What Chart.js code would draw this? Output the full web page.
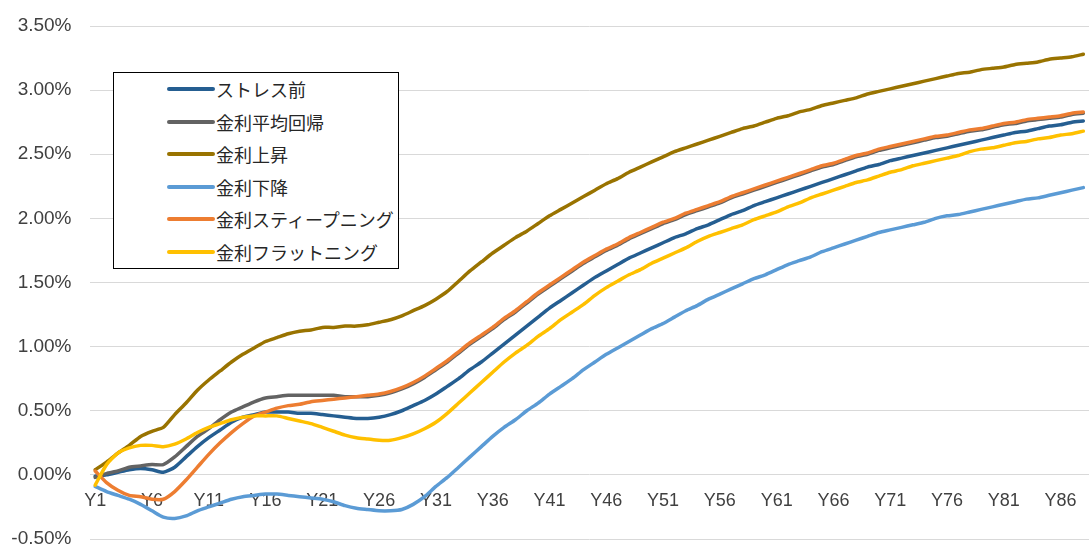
<!DOCTYPE html>
<html lang="ja">
<head>
<meta charset="utf-8">
<title>金利シナリオ別推移</title>
<script src="https://cdn.jsdelivr.net/npm/chart.js@4.4.1/dist/chart.umd.min.js"></script>
<style>
  html, body { margin: 0; padding: 0; background: #fff; }
  #wrap { position: relative; width: 1089px; height: 547px; overflow: hidden; }
  #legend {
    position: absolute; left: 113px; top: 72px; width: 286px; height: 197px;
    box-sizing: border-box; border: 1px solid #000; background: #fff;
    font-family: "Noto Sans CJK JP", sans-serif; font-size: 18px; color: #262626;
  }
  .item { position: absolute; left: 53px; height: 22px; display: flex; align-items: center; white-space: nowrap; }
  .swatch { width: 48px; height: 4px; border-radius: 2px; margin-right: 1px; }
</style>
</head>
<body>
<div id="wrap">
  <canvas id="chart"></canvas>
  <div id="legend"></div>
</div>
<script>
"use strict";

const years = [
  "Y1", "Y2", "Y3", "Y4", "Y5", "Y6", "Y7", "Y8", "Y9", "Y10",
  "Y11", "Y12", "Y13", "Y14", "Y15", "Y16", "Y17", "Y18", "Y19", "Y20",
  "Y21", "Y22", "Y23", "Y24", "Y25", "Y26", "Y27", "Y28", "Y29", "Y30",
  "Y31", "Y32", "Y33", "Y34", "Y35", "Y36", "Y37", "Y38", "Y39", "Y40",
  "Y41", "Y42", "Y43", "Y44", "Y45", "Y46", "Y47", "Y48", "Y49", "Y50",
  "Y51", "Y52", "Y53", "Y54", "Y55", "Y56", "Y57", "Y58", "Y59", "Y60",
  "Y61", "Y62", "Y63", "Y64", "Y65", "Y66", "Y67", "Y68", "Y69", "Y70",
  "Y71", "Y72", "Y73", "Y74", "Y75", "Y76", "Y77", "Y78", "Y79", "Y80",
  "Y81", "Y82", "Y83", "Y84", "Y85", "Y86", "Y87", "Y88",
];

// values in percent
const stressBefore = [
  -0.01, 0.00, 0.02, 0.04, 0.05, 0.04, 0.02, 0.06, 0.14, 0.22,
  0.29, 0.35, 0.41, 0.45, 0.47, 0.49, 0.49, 0.49, 0.48, 0.48,
  0.47, 0.46, 0.45, 0.44, 0.44, 0.45, 0.47, 0.50, 0.54, 0.58,
  0.63, 0.69, 0.75, 0.82, 0.88, 0.95, 1.02, 1.09, 1.16, 1.23,
  1.30, 1.36, 1.42, 1.48, 1.54, 1.59, 1.64, 1.69, 1.73, 1.77,
  1.81, 1.85, 1.88, 1.92, 1.95, 1.99, 2.03, 2.06, 2.10, 2.13,
  2.16, 2.19, 2.22, 2.25, 2.28, 2.31, 2.34, 2.37, 2.40, 2.42,
  2.45, 2.47, 2.49, 2.51, 2.53, 2.55, 2.57, 2.59, 2.61, 2.63,
  2.65, 2.67, 2.68, 2.70, 2.72, 2.73, 2.75, 2.76,
];
const meanRevert = [
  -0.02, 0.01, 0.03, 0.06, 0.07, 0.08, 0.08, 0.14, 0.22, 0.30,
  0.36, 0.43, 0.49, 0.53, 0.57, 0.60, 0.61, 0.62, 0.62, 0.62,
  0.62, 0.62, 0.61, 0.61, 0.61, 0.62, 0.64, 0.67, 0.71, 0.76,
  0.82, 0.88, 0.95, 1.02, 1.08, 1.14, 1.21, 1.27, 1.34, 1.41,
  1.47, 1.53, 1.59, 1.65, 1.70, 1.75, 1.79, 1.84, 1.88, 1.92,
  1.96, 1.99, 2.03, 2.06, 2.09, 2.12, 2.16, 2.19, 2.22, 2.25,
  2.28, 2.31, 2.34, 2.37, 2.40, 2.42, 2.45, 2.48, 2.50, 2.53,
  2.55, 2.57, 2.59, 2.61, 2.63, 2.64, 2.66, 2.68, 2.69, 2.71,
  2.73, 2.74, 2.76, 2.77, 2.78, 2.79, 2.81, 2.82,
];
const rateUp = [
  0.04, 0.10, 0.17, 0.23, 0.30, 0.34, 0.37, 0.47, 0.56, 0.66,
  0.74, 0.81, 0.88, 0.94, 0.99, 1.04, 1.07, 1.10, 1.12, 1.13,
  1.15, 1.15, 1.16, 1.16, 1.17, 1.19, 1.21, 1.24, 1.28, 1.32,
  1.37, 1.43, 1.51, 1.59, 1.66, 1.73, 1.79, 1.85, 1.90, 1.96,
  2.02, 2.07, 2.12, 2.17, 2.22, 2.27, 2.31, 2.36, 2.40, 2.44,
  2.48, 2.52, 2.55, 2.58, 2.61, 2.64, 2.67, 2.70, 2.72, 2.75,
  2.78, 2.80, 2.83, 2.85, 2.88, 2.90, 2.92, 2.94, 2.97, 2.99,
  3.01, 3.03, 3.05, 3.07, 3.09, 3.11, 3.13, 3.14, 3.16, 3.17,
  3.18, 3.20, 3.21, 3.22, 3.24, 3.25, 3.26, 3.28,
];
const rateDown = [
  -0.09, -0.13, -0.16, -0.19, -0.23, -0.28, -0.33, -0.34, -0.32, -0.28,
  -0.25, -0.22, -0.19, -0.17, -0.16, -0.15, -0.15, -0.16, -0.17, -0.18,
  -0.19, -0.21, -0.24, -0.26, -0.27, -0.28, -0.28, -0.27, -0.23, -0.17,
  -0.09, -0.02, 0.06, 0.14, 0.22, 0.30, 0.37, 0.43, 0.50, 0.56,
  0.63, 0.69, 0.75, 0.82, 0.88, 0.94, 0.99, 1.04, 1.09, 1.14,
  1.18, 1.23, 1.28, 1.32, 1.37, 1.41, 1.45, 1.49, 1.53, 1.56,
  1.60, 1.64, 1.67, 1.70, 1.74, 1.77, 1.80, 1.83, 1.86, 1.89,
  1.91, 1.93, 1.95, 1.97, 2.00, 2.02, 2.03, 2.05, 2.07, 2.09,
  2.11, 2.13, 2.15, 2.16, 2.18, 2.20, 2.22, 2.24,
];
const steepening = [
  0.03, -0.06, -0.12, -0.16, -0.17, -0.19, -0.19, -0.13, -0.04, 0.06,
  0.16, 0.25, 0.33, 0.40, 0.46, 0.49, 0.52, 0.54, 0.55, 0.57,
  0.58, 0.59, 0.60, 0.61, 0.62, 0.63, 0.65, 0.68, 0.72, 0.77,
  0.83, 0.89, 0.96, 1.03, 1.09, 1.15, 1.22, 1.28, 1.35, 1.42,
  1.48, 1.54, 1.60, 1.66, 1.71, 1.76, 1.80, 1.85, 1.89, 1.93,
  1.97, 2.00, 2.04, 2.07, 2.10, 2.13, 2.17, 2.20, 2.23, 2.26,
  2.29, 2.32, 2.35, 2.38, 2.41, 2.43, 2.46, 2.49, 2.51, 2.54,
  2.56, 2.58, 2.60, 2.62, 2.64, 2.65, 2.67, 2.69, 2.70, 2.72,
  2.74, 2.75, 2.77, 2.78, 2.79, 2.80, 2.82, 2.83,
];
const flattening = [
  -0.08, 0.08, 0.17, 0.21, 0.23, 0.23, 0.22, 0.24, 0.28, 0.33,
  0.37, 0.40, 0.43, 0.45, 0.46, 0.46, 0.46, 0.44, 0.42, 0.40,
  0.37, 0.34, 0.31, 0.29, 0.28, 0.27, 0.27, 0.29, 0.32, 0.36,
  0.41, 0.48, 0.56, 0.64, 0.72, 0.80, 0.88, 0.95, 1.01, 1.08,
  1.14, 1.21, 1.27, 1.33, 1.40, 1.46, 1.51, 1.56, 1.60, 1.65,
  1.69, 1.73, 1.77, 1.82, 1.86, 1.89, 1.92, 1.95, 1.99, 2.02,
  2.05, 2.09, 2.12, 2.16, 2.19, 2.22, 2.25, 2.28, 2.30, 2.33,
  2.36, 2.38, 2.41, 2.43, 2.45, 2.47, 2.49, 2.52, 2.54, 2.55,
  2.57, 2.59, 2.60, 2.62, 2.63, 2.65, 2.66, 2.68,
];

const seriesNames = ["ストレス前", "金利平均回帰", "金利上昇", "金利下降", "金利スティープニング", "金利フラットニング"];
const seriesColors = ["#255E91", "#636363", "#997300", "#5B9BD5", "#ED7D31", "#FFC000"];
const seriesValues = [stressBefore, meanRevert, rateUp, rateDown, steepening, flattening];

const fontFamily = "'Liberation Sans', Arial, sans-serif";
const tickColor = "#404040";

const datasets = seriesNames.map((name, i) => ({
  label: name,
  data: seriesValues[i],
  borderColor: seriesColors[i],
  backgroundColor: seriesColors[i],
  order: seriesNames.length - i, // later series on top
}));

const chart = new Chart(document.getElementById("chart"), {
  type: "line",
  data: { labels: years, datasets: datasets },
  options: {
    responsive: true,
    maintainAspectRatio: false,
    animation: false,
    layout: { padding: { top: 26, bottom: 8, left: 0, right: 0 } },
    plugins: { legend: { display: false }, tooltip: { enabled: false } },
    elements: {
      point: { radius: 0 },
      line: { borderWidth: 3.5, tension: 0.2, borderCapStyle: "round", borderJoinStyle: "round" },
    },
    scales: {
      x: {
        position: { y: 0 },
        offset: true,
        grid: { display: false },
        border: { display: false },
        ticks: {
          autoSkip: false,
          maxRotation: 0,
          padding: 7,
          color: tickColor,
          font: { family: fontFamily, size: 18 },
          callback: function (value, index) {
            return index % 5 === 0 ? this.getLabelForValue(value) : null;
          },
        },
        afterFit: (scale) => {
          scale.height = 0;
          scale.paddingLeft = 0;
          scale.paddingRight = 0;
        },
      },
      y: {
        min: -0.5,
        max: 3.5,
        grid: { color: "#d9d9d9", drawTicks: false },
        border: { display: false },
        ticks: {
          stepSize: 0.5,
          padding: 18,
          color: tickColor,
          font: { family: fontFamily, size: 19 },
          callback: (v) => v.toFixed(2) + "%",
        },
        afterFit: (scale) => {
          scale.width = 89.5;
          scale.paddingTop = 0;
          scale.paddingBottom = 0;
        },
      },
    },
  },
});

// boxed legend in the upper left of the plot
const legendBox = document.getElementById("legend");
chart.data.datasets.forEach((ds, i) => {
  const item = document.createElement("div");
  item.className = "item";
  item.style.top = `${5 + i * 32.6}px`;
  item.innerHTML = `<span class="swatch" style="background:${ds.borderColor}"></span><span>${ds.label}</span>`;
  legendBox.appendChild(item);
});
</script>
</body>
</html>
